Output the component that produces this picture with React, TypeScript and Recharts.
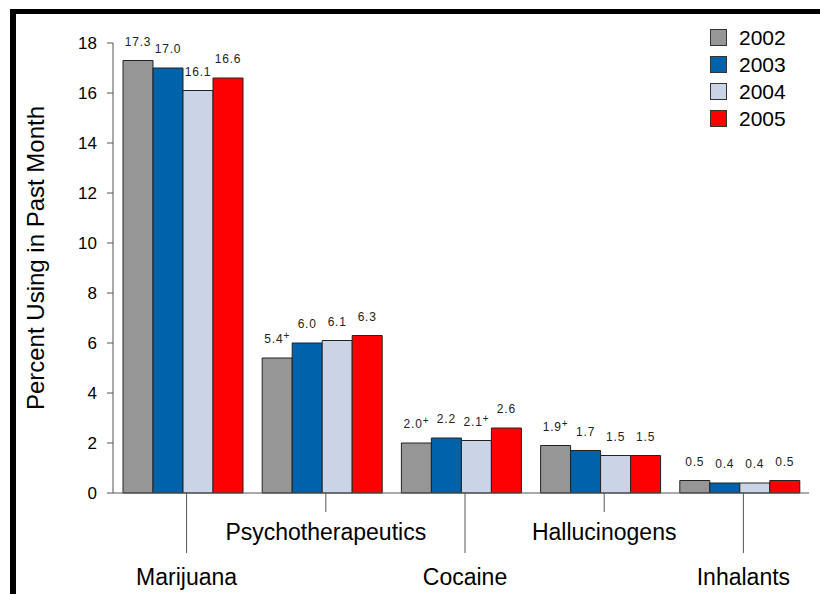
import { BarChart, Bar, XAxis, YAxis, LabelList } from 'recharts'

const categories = ['Marijuana', 'Psychotherapeutics', 'Cocaine', 'Hallucinogens', 'Inhalants']
const years = ['2002', '2003', '2004', '2005']
const v2002 = [17.3, 5.4, 2.0, 1.9, 0.5]
const v2003 = [17.0, 6.0, 2.2, 1.7, 0.4]
const v2004 = [16.1, 6.1, 2.1, 1.5, 0.4]
const v2005 = [16.6, 6.3, 2.6, 1.5, 0.5]
// "+" marks next to some estimates
const plus2002 = [false, true, true, true, false]
const plus2003 = [false, false, false, false, false]
const plus2004 = [false, false, true, false, false]
const plus2005 = [false, false, false, false, false]
const yTicks = [0, 2, 4, 6, 8, 10, 12, 14, 16, 18]

const colors = ['#969696', '#0062A8', '#CBD3E6', '#FF0000']
const seriesValues = [v2002, v2003, v2004, v2005]
const seriesPlus = [plus2002, plus2003, plus2004, plus2005]

const data = categories.map((name, i) => {
  const row: Record<string, string | number> = { name }
  years.forEach((y, s) => { row[y] = seriesValues[s][i] })
  return row
})

const FONT = '"Liberation Sans", Arial, sans-serif'

function makeValueLabel(plus: boolean[]) {
  return (props: any) => {
    const { x, y, width, value, index } = props
    return (
      <text x={x + width / 2} y={y - 15} textAnchor="middle" fontFamily={FONT} fontSize={12}
        fill="#222" letterSpacing={0.8}>
        {Number(value).toFixed(1)}
        {plus[index] ? <tspan fontSize={10} dy={-4}>+</tspan> : null}
      </text>
    )
  }
}

function CategoryTick(props: any) {
  const { x, y, payload, index } = props
  const cx = x + 4
  const long = index % 2 === 0
  return (
    <g>
      <line x1={cx} y1={y} x2={cx} y2={y + (long ? 60 : 19)} stroke="#555" />
      <text x={cx} y={y + (long ? 92 : 47)} textAnchor="middle" fontFamily={FONT} fontSize={23} fill="#000">
        {payload.value}
      </text>
    </g>
  )
}

function YearLegend() {
  return (
    <div style={{ position: 'absolute', left: 710, top: 24, fontFamily: FONT }}>
      {years.map((y, i) => (
        <div key={y} style={{ display: 'flex', alignItems: 'center', height: 27 }}>
          <div style={{ width: 15, height: 15, background: colors[i], border: '1px solid #333' }} />
          <span style={{ marginLeft: 12, fontSize: 21, color: '#000' }}>{y}</span>
        </div>
      ))}
    </div>
  )
}

export default function App() {
  return (
    <div style={{ position: 'absolute', left: 0, top: 0, width: 820, height: 594, background: '#fff' }}>
      <div style={{ position: 'absolute', left: 0, top: 0 }}>
        <BarChart width={820} height={594} data={data} barSize={30} barGap={0}
          margin={{ top: 43, right: 11, bottom: 71, left: 0 }}>
          <XAxis dataKey="name" height={30} tickLine={false} tickSize={0} tickMargin={0} interval={0}
            axisLine={{ stroke: '#555' }} tick={<CategoryTick />} />
          <YAxis width={113} domain={[0, 18]} ticks={yTicks} interval={0} tickSize={6} tickMargin={10}
            axisLine={{ stroke: '#555' }} tickLine={{ stroke: '#555' }}
            tick={{ fontFamily: FONT, fontSize: 17, fill: '#000' }}
            label={{
              content: () => (
                <text x={44} y={258} transform="rotate(-90 44 258)" textAnchor="middle"
                  fontFamily={FONT} fontSize={24} fill="#000">
                  Percent Using in Past Month
                </text>
              ),
            }} />
          {years.map((y, s) => (
            <Bar key={y} dataKey={y} fill={colors[s]} stroke="#222" strokeWidth={1} isAnimationActive={false}>
              <LabelList dataKey={y} content={makeValueLabel(seriesPlus[s])} />
            </Bar>
          ))}
        </BarChart>
      </div>
      <YearLegend />
      <div style={{ position: 'absolute', left: 10, top: 9, width: 810, height: 5, background: '#000' }} />
      <div style={{ position: 'absolute', left: 10, top: 9, width: 6, height: 585, background: '#000' }} />
    </div>
  )
}
